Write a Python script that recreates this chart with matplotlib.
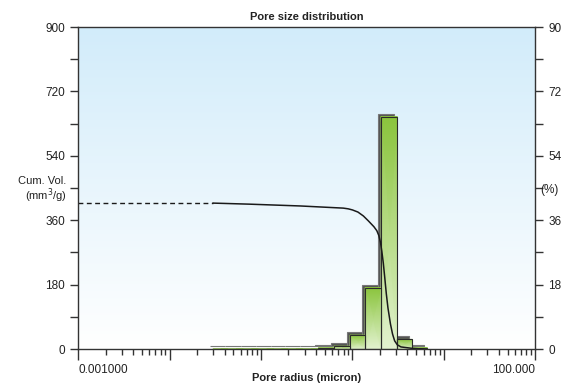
import numpy as np
import matplotlib
matplotlib.use('Agg')
import matplotlib.pyplot as plt
import matplotlib.transforms as mtransforms
from matplotlib.colors import LinearSegmentedColormap
from matplotlib.ticker import FixedLocator, NullFormatter, LogLocator

plt.rcParams['font.family'] = ['Liberation Sans', 'DejaVu Sans']

# histogram bins (micron) and incremental volume (mm3/g)
edges = [0.030, 0.044, 0.065, 0.095, 0.14, 0.20, 0.29, 0.425, 0.63, 0.944,
         1.38, 2.06, 3.09, 4.52, 6.6]
incr = [1.5, 1.5, 1.5, 1.5, 1.5, 1.5, 1.5, 4, 8, 39, 172, 650, 27, 4]

# cumulative curve (micron, mm3/g)
cum_r = [0.030, 0.076, 0.27, 0.795, 0.9, 1.0, 1.15, 1.32, 1.5, 1.72, 1.85,
         1.95, 2.03, 2.1, 2.18, 2.26, 2.35, 2.45, 2.61, 2.75, 2.9, 3.1, 3.4,
         4.5, 6.0]
cum_v = [408, 405, 400, 394, 392, 389, 383, 372, 358, 342, 331,
         317, 298, 273, 240, 200, 155, 115, 70, 42, 23, 12, 6,
         2, 0]

yticks_l = [0, 180, 360, 540, 720, 900]
yticks_r = [0, 18, 36, 54, 72, 90]

fig = plt.figure(figsize=(5.7, 3.87), dpi=100)
ax = fig.add_axes([0.137, 0.098, 0.802, 0.832])

# background gradient
grad = np.linspace(1, 0, 256).reshape(-1, 1)
bg = LinearSegmentedColormap.from_list('bg', ['#ffffff', '#d2ecfa'])
ax.imshow(grad, extent=[0, 1, 0, 1], transform=ax.transAxes, aspect='auto',
          cmap=bg, zorder=0)

ax.set_xscale('log')
ax.set_xlim(0.001, 100)
ax.set_ylim(0, 900)

green = LinearSegmentedColormap.from_list('gr', ['#e2f2cf', '#8ac43c'])
shadow = mtransforms.offset_copy(ax.transData, fig=fig, x=-3, y=3, units='dots')

for i in range(len(incr)):
    x0, x1 = edges[i], edges[i + 1]
    h = incr[i]
    sh = plt.Rectangle((x0, 0), x1 - x0, h, facecolor='#555555', edgecolor='#777777',
                       lw=0.8, zorder=2)
    sh.set_transform(shadow)
    ax.add_patch(sh)
for i in range(len(incr)):
    x0, x1 = edges[i], edges[i + 1]
    h = incr[i]
    X = np.array([[x0, x1], [x0, x1]])
    Y = np.array([[0, 0], [h, h]])
    C = np.array([[0.0, 0.0], [1.0, 1.0]])
    ax.pcolormesh(X, Y, C, shading='gouraud', cmap=green, vmin=0, vmax=1, zorder=3)
    ax.add_patch(plt.Rectangle((x0, 0), x1 - x0, h, facecolor='none',
                               edgecolor='#2a2a2a', lw=0.8, zorder=4))

ax.plot(cum_r, cum_v, color='#1a1a1a', lw=1.1, zorder=5)
ax.plot([0.001, cum_r[0]], [cum_v[0], cum_v[0]], color='#1a1a1a', lw=1.0,
        ls=(0, (3.5, 2.5)), zorder=5)

for s in ax.spines.values():
    s.set_color('#333333')
    s.set_linewidth(1.0)
    s.set_zorder(6)

ax.set_yticks(yticks_l)
ax.yaxis.set_minor_locator(FixedLocator([90, 270, 450, 630, 810]))
ax.tick_params(axis='y', which='both', direction='out', length=6, width=1,
               color='#333333', labelsize=8.5, labelcolor='#222222')
ax.xaxis.set_major_locator(LogLocator(base=10, numticks=10))
ax.xaxis.set_minor_locator(LogLocator(base=10, subs=np.arange(2, 10), numticks=100))
ax.xaxis.set_minor_formatter(NullFormatter())
ax.set_xticklabels([])
ax.tick_params(axis='x', which='major', direction='out', length=8, width=1,
               color='#333333')
ax.tick_params(axis='x', which='minor', direction='out', length=4, width=1,
               color='#333333')
ax.text(0.001, -0.045, '0.001000', transform=ax.get_xaxis_transform(),
        ha='left', va='top', fontsize=8.5, color='#222222')
ax.text(100, -0.045, '100.000', transform=ax.get_xaxis_transform(),
        ha='right', va='top', fontsize=8.5, color='#222222')

ax2 = ax.twinx()
ax2.set_ylim(0, 90)
ax2.set_yticks(yticks_r)
ax2.yaxis.set_minor_locator(FixedLocator([9, 27, 45, 63, 81]))
ax2.tick_params(axis='y', which='both', direction='out', length=6, width=1,
                color='#333333', labelsize=8.5, labelcolor='#222222')
for s in ax2.spines.values():
    s.set_visible(False)

ax.set_title('Pore size distribution', fontsize=8, fontweight='bold',
             color='#222222', pad=5)
ax.set_xlabel('Pore radius (micron)', fontsize=8, fontweight='bold',
              color='#222222', labelpad=6)
fig.text(0.117, 0.508, 'Cum. Vol.\n(mm$^3$/g)', ha='right', va='center',
         fontsize=8, color='#222222', linespacing=1.0)
fig.text(0.947, 0.508, '(%)', ha='left', va='center', fontsize=8.5, color='#222222')

fig.savefig('out.png', dpi=100)
